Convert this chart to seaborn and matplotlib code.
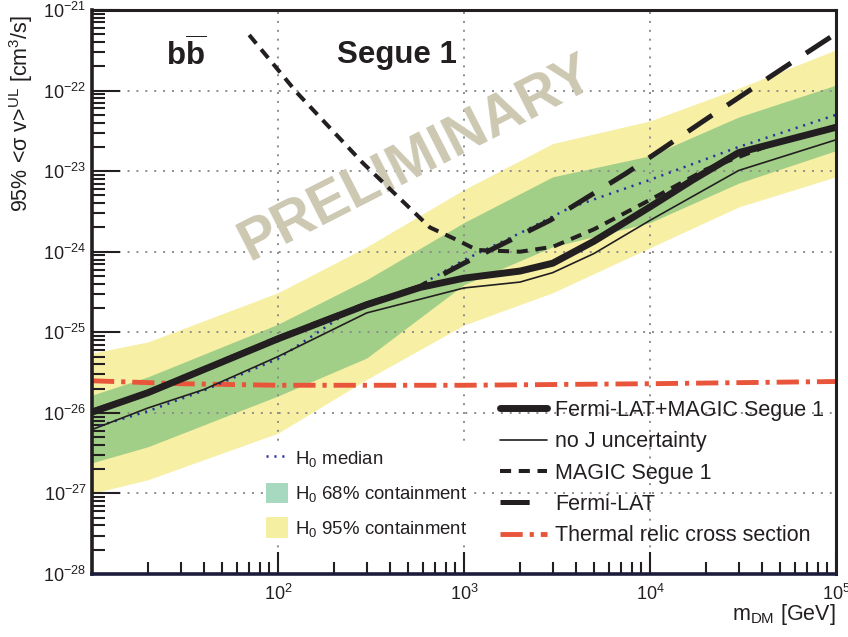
import numpy as np
import pandas as pd
import matplotlib
matplotlib.use("Agg")
import matplotlib.pyplot as plt
import seaborn as sns
from matplotlib.lines import Line2D
from matplotlib.patches import Patch
from matplotlib.ticker import (FixedLocator, LogLocator, NullFormatter, FuncFormatter,
                               LogFormatterSciNotation)

# ---------------- data ----------------
# H0 containment bands
mass_band = [10, 20, 100, 300, 1000, 3000, 1e4, 3e4, 1e5]
yellow_hi = [5.5e-26, 7.6e-26, 3.1e-25, 1.15e-24, 5.9e-24, 2.2e-23, 4.2e-23, 1.07e-22, 3.2e-22]
yellow_lo = [1.0e-27, 1.48e-27, 5.6e-27, 2.6e-26, 1.23e-25, 3.1e-25, 1.12e-24, 3.6e-24, 8.5e-24]
green_hi = [1.66e-26, 2.8e-26, 1.26e-25, 4.5e-25, 2.3e-24, 8.5e-24, 1.55e-23, 4.7e-23, 1.17e-22]
green_lo = [2.4e-27, 3.8e-27, 1.62e-26, 4.8e-26, 3.9e-25, 1.15e-24, 2.3e-24, 7.1e-24, 1.8e-23]

# Fermi-LAT + MAGIC combined limit
mass_comb = [10, 20, 100, 300, 580, 1000, 2000, 3000, 5000, 1e4, 1.7e4, 3e4, 1e5]
sv_comb = [1.02e-26, 1.78e-26, 8.3e-26, 2.2e-25, 3.6e-25, 4.7e-25, 5.75e-25, 7.2e-25,
           1.35e-24, 3.6e-24, 7.8e-24, 1.7e-23, 3.5e-23]

# no J uncertainty
mass_noj = [10, 20, 40, 100, 300, 1000, 2000, 3000, 5000, 1e4, 3e4, 1e5]
sv_noj = [6.2e-27, 1.15e-26, 1.95e-26, 5.0e-26, 1.74e-25, 3.55e-25, 4.2e-25, 5.5e-25,
          9.5e-25, 2.45e-24, 1.02e-23, 2.45e-23]

# H0 median
mass_med = [10, 20, 40, 100, 235, 530, 1000, 2000, 3700, 1e4, 3e4, 1e5]
sv_med = [6.5e-27, 1.05e-26, 1.9e-26, 4.7e-26, 1.74e-25, 3.4e-25, 7.9e-25, 1.7e-24,
          3.5e-24, 7.8e-24, 2.0e-23, 5.0e-23]

# MAGIC Segue 1
mass_magic = [70, 126, 286, 656, 916, 1175, 2000, 3000, 5000, 1e4, 2e4, 5e4, 1e5]
sv_magic = [4.9e-22, 9.5e-23, 1.26e-23, 2.0e-24, 1.4e-24, 1.05e-24, 1.0e-24, 1.15e-24,
            1.9e-24, 4.4e-24, 1.05e-23, 2.35e-23, 3.6e-23]

# Fermi-LAT
mass_fermi = [10, 20, 100, 300, 580, 1000, 2900, 7500, 2e4, 5.2e4, 1e5]
sv_fermi = [1.05e-26, 1.8e-26, 8.5e-26, 2.25e-25, 3.7e-25, 7.2e-25, 2.45e-24, 9.5e-24,
            4.4e-23, 1.9e-22, 5.1e-22]

# thermal relic cross section
mass_relic = [10, 30, 100, 1000, 1e4, 1e5]
sv_relic = [2.5e-26, 2.3e-26, 2.2e-26, 2.2e-26, 2.3e-26, 2.45e-26]

x_tick_vals = [10, 100, 1000, 1e4, 1e5]
y_tick_vals = [1e-28, 1e-27, 1e-26, 1e-25, 1e-24, 1e-23, 1e-22, 1e-21]

# ---------------- style ----------------
sns.set_style("white")
plt.rcParams["font.family"] = ["Liberation Sans", "DejaVu Sans"]
plt.rcParams["mathtext.fontset"] = "custom"
plt.rcParams["mathtext.rm"] = "Liberation Sans"
plt.rcParams["mathtext.it"] = "Liberation Sans:italic"
plt.rcParams["mathtext.bf"] = "Liberation Sans:bold"
plt.rcParams["lines.scale_dashes"] = False

ink = "#231f20"
red = "#e8553a"
blue = "#2b2f9e"
c_yellow = "#f6efa4"
c_green = "#a2cf88"

fig = plt.figure(figsize=(8.48, 6.37), dpi=100)
ax = fig.add_axes([92 / 848, 63 / 637, 744 / 848, 564 / 637])
ax.set_xscale("log")
ax.set_yscale("log")
ax.set_xlim(10, 1e5)
ax.set_ylim(1e-28, 1e-21)

# bands
ax.fill_between(mass_band, yellow_lo, yellow_hi, color=c_yellow, lw=0, zorder=1)
ax.fill_between(mass_band, green_lo, green_hi, color=c_green, lw=0, zorder=1.1)

# lines
sns.lineplot(x=mass_relic, y=sv_relic, ax=ax, color=red, lw=3.5,
             linestyle=(0, (16, 5, 3, 5)), errorbar=None, zorder=2)
sns.lineplot(x=mass_med, y=sv_med, ax=ax, color=blue, lw=1.8,
             linestyle=(0, (1.5, 4.2)), errorbar=None, zorder=2.1)
sns.lineplot(x=mass_fermi, y=sv_fermi, ax=ax, color=ink, lw=3.6,
             linestyle=(0, (21, 13)), errorbar=None, zorder=2.2)
sns.lineplot(x=mass_magic, y=sv_magic, ax=ax, color=ink, lw=2.9,
             linestyle=(0, (8, 5.5)), errorbar=None, zorder=2.3)
sns.lineplot(x=mass_noj, y=sv_noj, ax=ax, color=ink, lw=1.2, errorbar=None, zorder=2.4)
sns.lineplot(x=mass_comb, y=sv_comb, ax=ax, color=ink, lw=5, errorbar=None, zorder=2.5)

# grid
ax.set_axisbelow("line")
ax.grid(True, which="major", color="#8c8c8c", lw=1.4, linestyle=(0, (1.4, 5)))
ax.grid(False, which="minor")

# ticks
ax.xaxis.set_major_locator(FixedLocator(x_tick_vals))
ax.xaxis.set_major_formatter(FuncFormatter(
    lambda v, p: "" if v < 50 else r"$10^{%d}$" % round(np.log10(v))))
ax.xaxis.set_minor_locator(LogLocator(base=10, subs=np.arange(2, 10), numticks=20))
ax.xaxis.set_minor_formatter(NullFormatter())
ax.yaxis.set_major_locator(FixedLocator(y_tick_vals))
ax.yaxis.set_major_formatter(LogFormatterSciNotation())
ax.yaxis.set_minor_locator(LogLocator(base=10, subs=np.arange(2, 10), numticks=20))
ax.yaxis.set_minor_formatter(NullFormatter())

ax.tick_params(axis="both", which="both", direction="in", colors=ink, labelsize=13,
               left=True, bottom=True, top=False, right=False)
ax.tick_params(axis="y", which="major", length=20, width=1.5, pad=4)
ax.tick_params(axis="y", which="minor", length=9.5, width=1.5)
ax.tick_params(axis="x", which="major", length=16, width=1.5, pad=7)
ax.tick_params(axis="x", which="minor", length=8.5, width=1.5)

for side in ["left", "top", "right"]:
    ax.spines[side].set_color(ink)
ax.spines["left"].set_linewidth(2.6)
ax.spines["top"].set_linewidth(2.2)
ax.spines["right"].set_linewidth(2.2)
ax.spines["bottom"].set_linewidth(2.6)
ax.spines["bottom"].set_color("#1c1c3c")

# axis labels
ax.set_ylabel(r"95% <σ v>$^{\rm UL}$ [cm$^{3}$/s]", fontsize=15.5, color=ink, loc="top")
ax.yaxis.set_label_coords(-0.076, 0.992)
ax.set_xlabel(r"m$_{\rm DM}$ [GeV]", fontsize=15.5, color=ink, loc="right")
ax.xaxis.set_label_coords(1.0, -0.05)

# watermark and titles
ax.text(0.436, 0.735, "PRELIMINARY", transform=ax.transAxes, rotation=27,
        fontsize=41, fontweight="bold", color="#cdc8b2", ha="center", va="center",
        rotation_mode="anchor", zorder=1.6)
fig.text(186 / 848, 1 - 55 / 637, r"$\mathbf{b\overline{b}}$", fontsize=22.5,
         color=ink, ha="center", va="center")
fig.text(397 / 848, 1 - 55 / 637, "Segue 1", fontsize=22.5, fontweight="bold",
         color=ink, ha="center", va="center")

# legends
h_right = [
    Line2D([], [], color=ink, lw=5),
    Line2D([], [], color=ink, lw=1.2),
    Line2D([], [], color=ink, lw=2.9, linestyle=(0, (8, 5.5))),
    Line2D([], [], color=ink, lw=3.6, linestyle=(0, (21, 13))),
    Line2D([], [], color=red, lw=3.5, linestyle=(0, (16, 5, 3, 5))),
]
l_right = ["Fermi-LAT+MAGIC Segue 1", "no J uncertainty", "MAGIC Segue 1",
           "Fermi-LAT", "Thermal relic cross section"]
leg_r = ax.legend(h_right, l_right, loc="upper left",
                  bbox_to_anchor=(500 / 848, 1 - 400 / 637), bbox_transform=fig.transFigure,
                  frameon=False, fontsize=15.5, handlelength=2.19, handletextpad=0.36,
                  labelspacing=0.48, borderpad=0, borderaxespad=0)
for t in leg_r.get_texts():
    t.set_color(ink)
ax.add_artist(leg_r)

h_left = [
    Line2D([], [], color=blue, lw=1.8, linestyle=(0, (1.5, 4.2))),
    Patch(facecolor="#a6d9bf", edgecolor="none"),
    Patch(facecolor="#f5efa2", edgecolor="none"),
]
l_left = [r"H$_{0}$ median", r"H$_{0}$ 68% containment", r"H$_{0}$ 95% containment"]
leg_l = ax.legend(h_left, l_left, loc="upper left",
                  bbox_to_anchor=(264 / 848, 1 - 446 / 637), bbox_transform=fig.transFigure,
                  frameon=True, facecolor="white", edgecolor="none", fancybox=False,
                  framealpha=1, fontsize=13.4, handlelength=1.2, handleheight=1.3,
                  handletextpad=0.35, labelspacing=0.72, borderpad=0.1, borderaxespad=0)
for t in leg_l.get_texts():
    t.set_color(ink)

fig.savefig("out.png", dpi=100)
